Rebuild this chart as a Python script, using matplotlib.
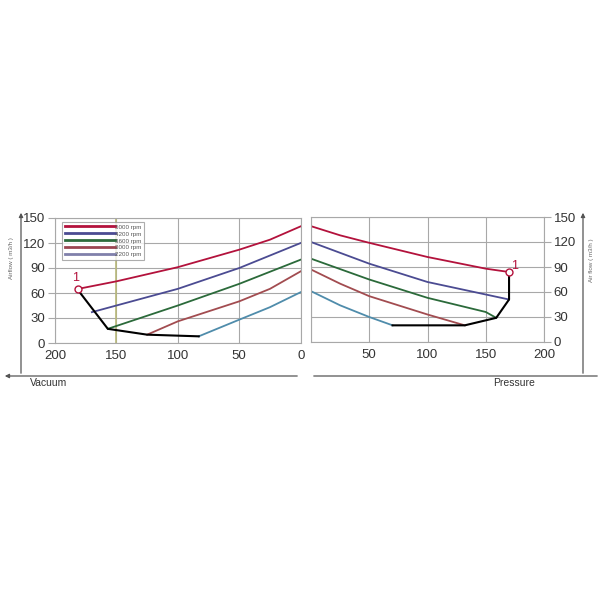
import matplotlib
matplotlib.use("Agg")
import matplotlib.pyplot as plt
from matplotlib.lines import Line2D

plt.rcParams["font.family"] = ["Liberation Sans", "DejaVu Sans"]

# ---------------- data ----------------
series_labels = ["5000 rpm", "4200 rpm", "3600 rpm", "3000 rpm", "2200 rpm"]
curve_colors = ["#b3123c", "#4b4b92", "#2b6a3a", "#a24c50", "#4f8cab"]
legend_colors = ["#b3123c", "#4b4b92", "#2b6a3a", "#9a4450", "#8080aa"]

# Vacuum side (x = vacuum, axis reversed)
vac_x = [
    [181, 150, 100, 50, 25, 0],
    [170, 150, 100, 50, 0],
    [157, 100, 50, 0],
    [125, 100, 50, 25, 0],
    [83, 50, 25, 0],
]
vac_y = [
    [65, 74, 91, 112, 124, 140],
    [37, 45, 65, 90, 120],
    [17, 45, 71, 100],
    [10, 26, 50, 65, 86],
    [8, 28, 43, 61],
]
vac_env_x = [181, 157, 125, 83]
vac_env_y = [63, 17, 10, 8]

# Pressure side
pre_x = [
    [0, 25, 50, 100, 150, 170],
    [0, 50, 100, 150, 170],
    [0, 50, 100, 150, 159],
    [0, 25, 50, 100, 132],
    [0, 25, 50, 70],
]
pre_y = [
    [139, 128, 119, 102, 88, 84],
    [120, 94, 72, 57, 51],
    [100, 75, 53, 36, 29],
    [87, 70, 55, 33, 20],
    [61, 44, 30, 20],
]
pre_env_x = [170, 170, 159, 132, 70]
pre_env_y = [84, 51, 29, 20, 20]

yticks = [0, 30, 60, 90, 120, 150]
xticks = [0, 50, 100, 150, 200]

# ---------------- figure ----------------
fig = plt.figure(figsize=(6, 6), dpi=100)
W = H = 600.0

def fx(px):
    return px / W

def fy(py):
    return 1 - py / H

grid_c = "#a8a8a8"
tick_c = "#333333"

axL = fig.add_axes([fx(55), fy(343), fx(300.7) - fx(55), fy(218) - fy(343)])
axR = fig.add_axes([fx(311), fy(342), fx(544) - fx(311), fy(217) - fy(342)])

for ax in (axL, axR):
    ax.set_ylim(0, 150)
    ax.set_xlim(0, 200)
    ax.set_yticks(yticks)
    ax.set_xticks(xticks)
    ax.grid(True, color=grid_c, lw=0.8)
    ax.set_axisbelow(True)
    for s in ax.spines.values():
        s.set_color(grid_c)
        s.set_linewidth(0.8)
    ax.tick_params(labelsize=9.5, colors=tick_c, length=5, width=0.8,
                   color=grid_c, pad=2)

axL.set_xlim(200, 0)
axL.axvline(150, color="#b8b87a", lw=1.2, zorder=1.5)

axR.yaxis.tick_right()
axR.set_xticklabels(["", "50", "100", "150", "200"])
axR.tick_params(axis="x", length=0, pad=5)
axL.tick_params(axis="x", length=0, pad=5)

for i in range(len(series_labels)):
    axL.plot(vac_x[i], vac_y[i], color=curve_colors[i], lw=1.3)
    axR.plot(pre_x[i], pre_y[i], color=curve_colors[i], lw=1.3)

axL.plot(vac_env_x, vac_env_y, color="black", lw=1.5)
axR.plot(pre_env_x, pre_env_y, color="black", lw=1.5)

axL.plot([vac_x[0][0]], [vac_y[0][0]], marker="o", ms=5, mfc="white",
         mec="#b3123c", mew=1.0, zorder=5)
axR.plot([pre_x[0][-1]], [pre_y[0][-1]], marker="o", ms=5, mfc="white",
         mec="#b3123c", mew=1.0, zorder=5)
axL.text(vac_x[0][0] + 2, vac_y[0][0] + 6, "1", color="#b3123c", fontsize=9,
         ha="center", va="bottom")
axR.text(pre_x[0][-1] + 5, pre_y[0][-1], "1", color="#b3123c", fontsize=9,
         ha="center", va="bottom")

handles = [Line2D([0], [0], color=c, lw=2) for c in legend_colors]
leg = axL.legend(handles, series_labels, loc="upper left",
                 bbox_to_anchor=(0.03, 0.97), fontsize=4.5, handlelength=8,
                 handletextpad=0.1, labelspacing=0.25, borderpad=0.4,
                 frameon=True, fancybox=False, borderaxespad=0)
leg.get_frame().set_edgecolor("#999999")
leg.get_frame().set_linewidth(0.8)
for t in leg.get_texts():
    t.set_color("#555555")

# ---------------- outer axes lines ----------------
line_c = "#555555"
def arrow(x0, y0, x1, y1, head=True):
    fig.add_artist(matplotlib.patches.FancyArrowPatch(
        (fx(x0), fy(y0)), (fx(x1), fy(y1)), transform=fig.transFigure,
        arrowstyle="-|>" if head else "-", mutation_scale=6,
        color=line_c, lw=0.9))

arrow(21, 376, 21, 210)
arrow(300, 376, 2, 376)
arrow(583, 376, 583, 210)
arrow(311, 376, 600, 376, head=False)

fig.text(fx(30), fy(383), "Vacuum", fontsize=7.5, color="#333333",
         ha="left", va="center")
fig.text(fx(493), fy(383), "Pressure", fontsize=7.5, color="#333333",
         ha="left", va="center")
fig.text(fx(12), fy(258), "Airflow ( m3/h )", fontsize=4.5, color="#666666",
         rotation=90, ha="center", va="center")
fig.text(fx(591), fy(260), "Air flow ( m3/h )", fontsize=4.5, color="#666666",
         rotation=90, ha="center", va="center")

fig.savefig("out.png", dpi=100, facecolor="white")
